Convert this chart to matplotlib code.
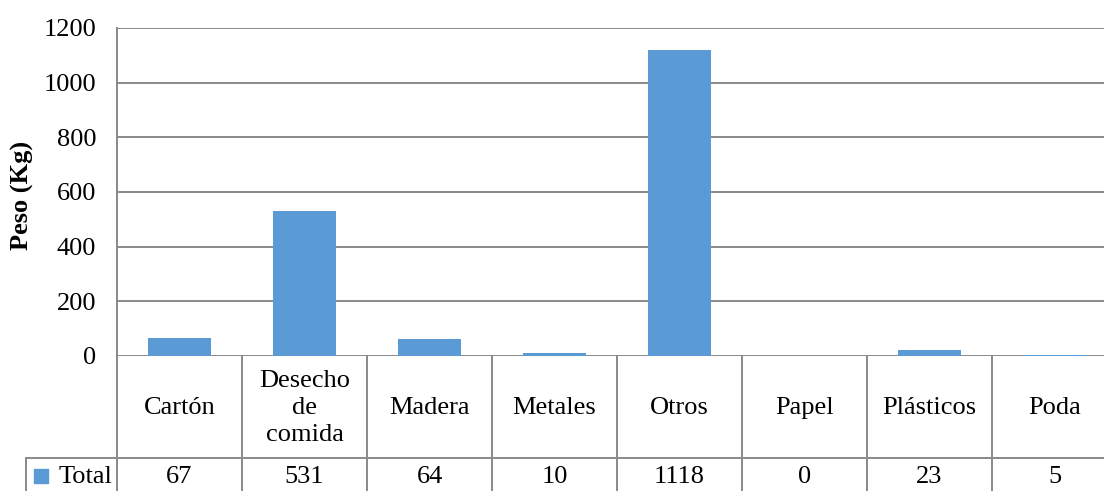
import matplotlib.pyplot as plt
import matplotlib.transforms as mtransforms

# Data
categorias = ["Cartón", "Desecho\nde\ncomida", "Madera", "Metales", "Otros",
              "Papel", "Plásticos", "Poda"]
totales = [67, 531, 64, 10, 1118, 0, 23, 5]
yticks = [0, 200, 400, 600, 800, 1000, 1200]

azul = "#5B9BD5"
gris = "#898989"

plt.rcParams["font.family"] = ["Liberation Serif", "DejaVu Serif"]
plt.rcParams["font.size"] = 19

W, H = 1104, 491
fig = plt.figure(figsize=(W / 100, H / 100), dpi=100)
# axes: left edge at 117px, zero line at 356px, 1200 at 28px
ax = fig.add_axes([117 / W, (H - 356) / H, 1000 / W, (356 - 28) / H])

x = list(range(len(categorias)))
ax.bar(x, totales, width=0.51, color=azul, zorder=3)

ax.set_xlim(-0.5, len(categorias) - 0.5)
ax.set_ylim(0, 1200)
ax.set_yticks(yticks)
ax.yaxis.grid(True, color=gris, linewidth=1.4, zorder=0)
ax.set_xticks([])
ax.tick_params(axis="y", length=0, pad=15)
for s in ["top", "right", "bottom", "left"]:
    ax.spines[s].set_visible(False)

ax.set_ylabel("Peso (Kg)", fontweight="bold")
ax.yaxis.set_label_coords(-0.083, 0.49)

# data table under the axis
trans = mtransforms.blended_transform_factory(ax.transData, ax.transAxes)
y_fila = -0.311   # line between category row and value row
y_fondo = -0.45
x_izq = -1.228    # left edge of the "Total" cell

lk = dict(color=gris, linewidth=1.4, transform=trans, clip_on=False)
# vertical lines
ax.plot([-0.5, -0.5], [1.0, y_fondo], **lk)
for k in range(1, len(categorias) + 1):
    ax.plot([k - 0.5, k - 0.5], [0, y_fondo], **lk)
ax.plot([x_izq, x_izq], [y_fila, y_fondo], **lk)
# horizontal line
ax.plot([x_izq, len(categorias) - 0.5], [y_fila, y_fila], **lk)

for i, (c, v) in enumerate(zip(categorias, totales)):
    ax.text(i, -0.1585, c, transform=trans, ha="center", va="center",
            linespacing=1.3)
    ax.text(i, -0.368, str(v), transform=trans, ha="center", va="center")

# legend key + row label
ax.text(-0.5 - 0.04, -0.368, "Total", transform=trans, ha="right", va="center")
ax.scatter([-1.11], [-0.365], marker="s", s=105, color=azul, transform=trans,
           clip_on=False)

fig.savefig("out.png", dpi=100)
